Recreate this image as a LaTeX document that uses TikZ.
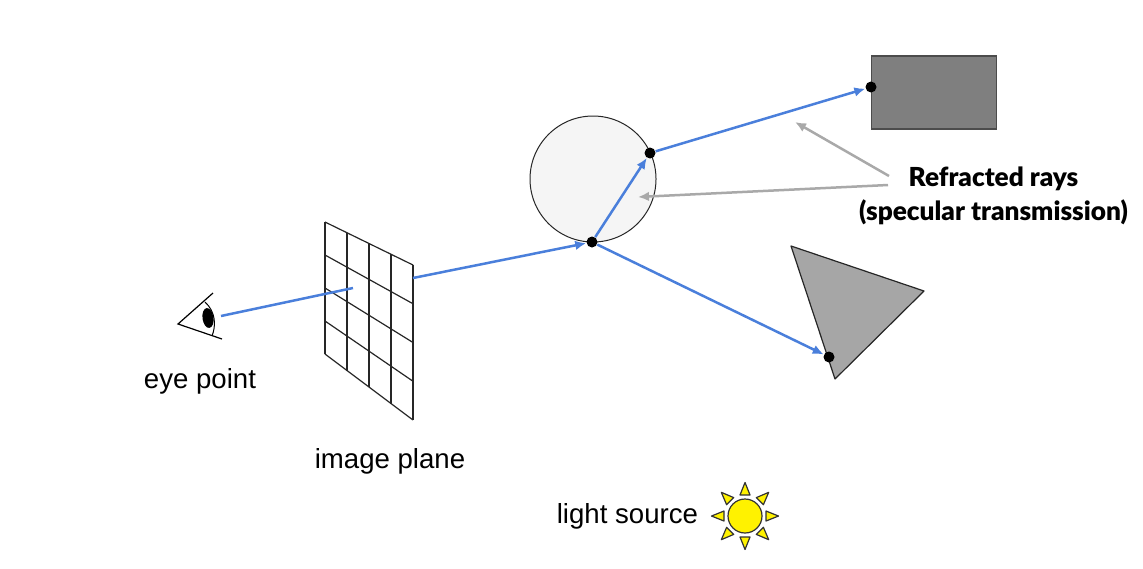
\documentclass[tikz,border=0pt]{standalone}
\usepackage{fontspec}
\setmainfont{Liberation Sans}
\newfontfamily\calloutfont[BoldFont=Lato Black]{Lato}
\usetikzlibrary{arrows.meta, positioning, calc, shapes.geometric}
\definecolor{raycolor}{HTML}{4A7FDB}
\definecolor{notecolor}{HTML}{A9A9A9}
\definecolor{sphere}{HTML}{F5F5F5}
\definecolor{boxgray}{HTML}{7F7F7F}
\definecolor{triangray}{HTML}{A6A6A6}
\tikzset{
  ray/.style={draw=raycolor, line width=1.25pt},
  note/.style={draw=notecolor, line width=1.25pt},
  hit/.style={circle, fill=black, inner sep=0pt, minimum size=5.5pt},
  caption/.style={font=\fontsize{13.8}{16}\selectfont, inner sep=0pt},
  callout/.style={font=\calloutfont\bfseries\fontsize{13.1}{17}\selectfont, inner sep=0pt, align=center}
}

\begin{document}
\begin{tikzpicture}[x=0.5pt, y=-0.5pt, >={Latex[length=5.5pt,width=4.8pt]}]
  \useasboundingbox (0,0) rectangle (1143,568);
  % scene objects
  \node (box) [draw=black!70, fill=boxgray, line width=0.6pt, inner sep=0pt, minimum width=62.5pt, minimum height=36.5pt] at (934.2,92.5) {};
  \node (ball) [circle, draw=black!85, fill=sphere, line width=0.5pt, inner sep=0pt, minimum size=63pt] at (593,179) {};
  \coordinate (triA) at (791,246);
  \coordinate (triB) at (924,291);
  \coordinate (triC) at (835,379);
  \draw[black!85, fill=triangray, line width=0.6pt, line join=round] (triA) -- (triB) -- (triC) -- cycle;
  % image plane
  \coordinate (planeTL) at (325,222);
  \coordinate (planeTR) at (413,265);
  \coordinate (planeBL) at (325,354);
  \coordinate (planeBR) at (413,420);
  \foreach \i in {0,...,4} {
    \draw[black!85, line width=0.6pt] ($(planeTL)!\i/4!(planeTR)$) -- ($(planeBL)!\i/4!(planeBR)$);
    \draw[black!85, line width=0.6pt] ($(planeTL)!\i/4!(planeBL)$) -- ($(planeTR)!\i/4!(planeBR)$);
  }
  % eye
  \coordinate (eyeTip) at (178,324);
  \coordinate (lidUp) at (213,293);
  \coordinate (lidDown) at (222,339);
  \draw[black, line width=0.6pt] (lidUp) -- (eyeTip) -- (lidDown);
  \draw[black, line width=0.5pt] (205,302) .. controls (216,312) and (216,326) .. (212,336);
  \node (pupil) [ellipse, fill=black, inner sep=0pt, minimum width=5.5pt, minimum height=10pt, rotate=8] at (208,318) {};
  % hit points
  \node (hitBall) [hit] at (592,242) {};
  \node (hitExit) [hit] at (650,153) {};
  \node (hitBox) [hit] at (871,87) {};
  \node (hitTri) [hit] at (829,357) {};
  % rays
  \coordinate (rayStart) at (221,316);
  \coordinate (rayPlane) at (353,288);
  \coordinate (rayBack) at (413,278);
  \draw[ray] (rayStart) -- (rayPlane);
  \draw[ray, ->] (rayBack) -- (hitBall);
  \draw[ray, ->] (hitBall) -- (hitExit);
  \draw[ray, ->] (hitExit) -- (hitBox);
  \draw[ray, ->] (hitBall) -- (hitTri);
  % callout
  \node (refracted) [callout] at (993.5,196) {Refracted rays\\(specular transmission)};
  \coordinate (noteA) at (889,176);
  \coordinate (noteB) at (888,185);
  \coordinate (noteAEnd) at (795,122);
  \coordinate (noteBEnd) at (638,197);
  \draw[note, ->] (noteA) -- (noteAEnd);
  \draw[note, ->] (noteB) -- (noteBEnd);
  % captions
  \node (eyeLabel) [caption] at (200,381) {eye point};
  \node (planeLabel) [caption] at (390,461) {image plane};
  % sun
  \node (sun) [circle, draw=black!80, fill=yellow, line width=0.6pt, inner sep=0pt, minimum size=17pt] at (745,516) {};
  \foreach \a in {0,45,...,315} {
    \draw[black!80, fill=yellow, line width=0.6pt, line join=round, shift={(sun)}, rotate=\a] (21,-5) -- (33.5,0) -- (21,5) -- cycle;
  }
  \node (sunLabel) [caption, left=14.5pt of sun] {light source};
\end{tikzpicture}
\end{document}
